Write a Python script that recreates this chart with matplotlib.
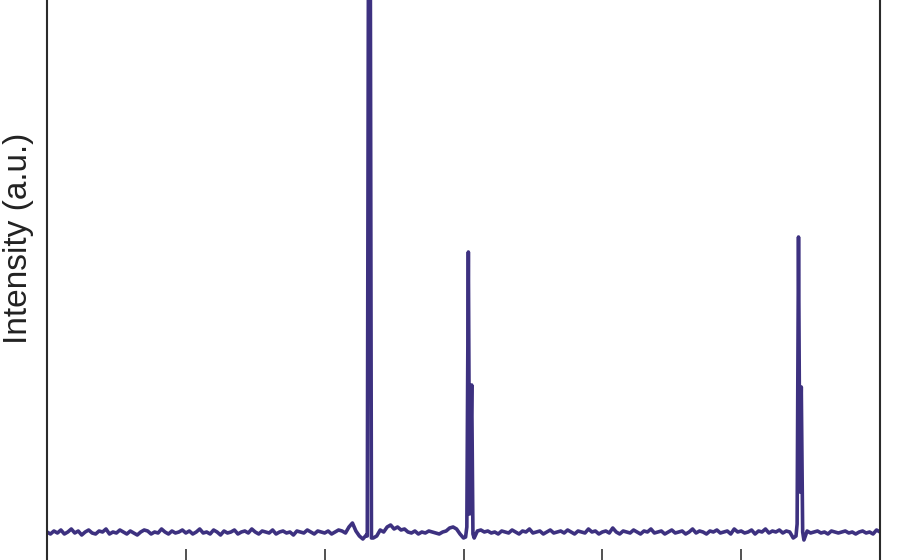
import numpy as np
import matplotlib
matplotlib.use('Agg')
import matplotlib.pyplot as plt

plt.rcParams['font.family'] = ['Liberation Sans', 'DejaVu Sans']

# XRD scan: baseline counts on a regular 2-theta grid (10-70 deg, step 0.25)
scan_start = 10.0
scan_step = 0.25
baseline_counts = [
    100, 98, 101, 99, 102, 98, 100, 103, 99, 101,
    97, 100, 102, 99, 98, 101, 100, 103, 98, 100,
    99, 102, 100, 98, 101, 99, 97, 100, 102, 101,
    98, 100, 99, 103, 100, 98, 101, 99, 100, 102,
    99, 101, 98, 100, 103, 99, 100, 98, 102, 100,
    97, 101, 99, 100, 102, 98, 100, 101, 99, 103,
    100, 98, 101, 100, 99, 102, 98, 100, 101, 99,
    100, 97, 101, 100, 99, 102, 100, 98, 101, 100,
    99, 101, 98, 100, 102, 101, 99, 105, 109, 101,
    96, 93, 97, 100, 94, 96, 102, 100, 105, 107,
    103, 105, 102, 103, 100, 99, 101, 98, 100, 99,
    101, 100, 99, 98, 100, 101, 104, 105, 103, 98,
    94, 100, 100, 94, 101, 102, 100, 101, 99, 100,
    98, 101, 100, 99, 102, 100, 98, 101, 100, 103,
    99, 100, 101, 98, 100, 102, 99, 100, 101, 99,
    102, 100, 98, 101, 100, 99, 103, 100, 101, 98,
    100, 101, 99, 104, 100, 98, 101, 100, 99, 102,
    100, 98, 101, 100, 103, 99, 100, 101, 98, 100,
    102, 99, 100, 101, 98, 100, 103, 99, 101, 100,
    98, 101, 100, 102, 99, 100, 101, 98, 103, 100,
    101, 99, 100, 102, 98, 101, 100, 103, 99, 101,
    100, 102, 99, 101, 100, 94, 100, 100, 92, 101,
    99, 100, 101, 99, 100, 98, 101, 100, 99, 100,
    101, 99, 100, 98, 100, 101, 99, 100, 98, 102, 100,
]

peak1_2theta = [33.07, 33.22, 33.37]
peak1_counts = [96, 1150, 94]
peak2_2theta = [40.15, 40.24, 40.35, 40.44, 40.59, 40.68, 40.77]
peak2_counts = [95, 105, 380, 118, 247, 98, 94]
peak3_2theta = [63.95, 64.03, 64.13, 64.23, 64.33, 64.43, 64.52]
peak3_counts = [96, 108, 395, 140, 245, 100, 92]

grid = scan_start + scan_step * np.arange(len(baseline_counts))
base = np.array(baseline_counts, dtype=float)

peaks = [(peak1_2theta, peak1_counts), (peak2_2theta, peak2_counts),
         (peak3_2theta, peak3_counts)]
keep = np.ones(len(grid), dtype=bool)
for px, _ in peaks:
    keep &= ~((grid >= px[0]) & (grid <= px[-1]))

two_theta = np.concatenate([grid[keep]] + [np.array(px) for px, _ in peaks])
intensity = np.concatenate([base[keep]] + [np.array(py, float) for _, py in peaks])
order = np.argsort(two_theta)
two_theta, intensity = two_theta[order], intensity[order]

fig = plt.figure(figsize=(9, 5.6), dpi=100)
ax = fig.add_axes([47 / 900, -10 / 560, 833 / 900, 590 / 560])
ax.plot(two_theta, intensity, color='#3d3180', lw=2.6)

ax.set_xlim(10, 70)
ax.set_ylim(62, 652)
ax.set_xticks([20, 30, 40, 50, 60])
ax.set_yticks([])
ax.tick_params(axis='x', direction='in', length=15, width=1.1,
               color='#222222', labelbottom=False)
for sp in ax.spines.values():
    sp.set_color('#2b2b2b')
    sp.set_linewidth(1.5)

fig.text(19 / 900, 1 - 238 / 560, 'Intensity (a.u.)', rotation=90,
         ha='center', va='center', fontsize=24, color='#222222')

fig.savefig('out.png', dpi=100)
